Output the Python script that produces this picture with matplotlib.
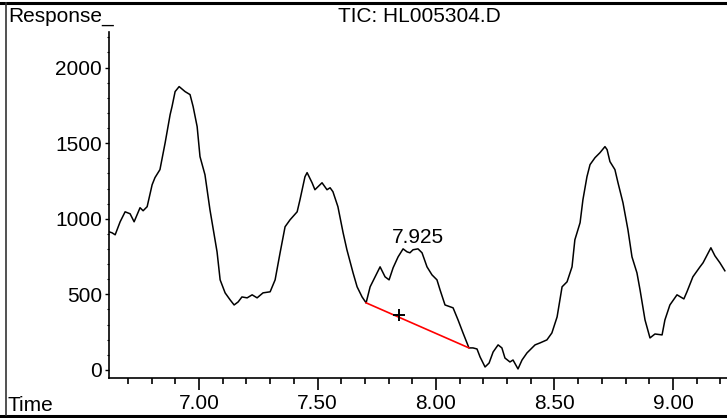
import numpy as np
import matplotlib.pyplot as plt
from matplotlib.lines import Line2D

# Chromatogram trace (retention time, response)
time_min = [
    6.620, 6.633, 6.646, 6.667, 6.688, 6.709, 6.726, 6.751, 6.764, 6.781,
    6.802, 6.814, 6.835, 6.857, 6.878, 6.886, 6.899, 6.916, 6.941, 6.962,
    6.975, 6.992, 7.004, 7.025, 7.046, 7.076, 7.089, 7.110, 7.131, 7.148,
    7.165, 7.181, 7.203, 7.224, 7.245, 7.270, 7.300, 7.321, 7.342, 7.363,
    7.384, 7.414, 7.426, 7.447, 7.456, 7.477, 7.489, 7.519, 7.540, 7.553,
    7.565, 7.586, 7.608, 7.624, 7.650, 7.667, 7.688, 7.705, 7.722, 7.743,
    7.764, 7.785, 7.802, 7.819, 7.840, 7.861, 7.878, 7.890, 7.903, 7.924,
    7.941, 7.962, 7.983, 8.004, 8.017, 8.038, 8.072, 8.093, 8.114, 8.139,
    8.156, 8.173, 8.186, 8.207, 8.224, 8.241, 8.262, 8.278, 8.291, 8.312,
    8.325, 8.346, 8.363, 8.384, 8.418, 8.439, 8.468, 8.489, 8.511, 8.523,
    8.532, 8.553, 8.574, 8.586, 8.608, 8.620, 8.637, 8.650, 8.671, 8.692,
    8.713, 8.722, 8.734, 8.755, 8.768, 8.789, 8.810, 8.827, 8.848, 8.861,
    8.882, 8.903, 8.924, 8.954, 8.966, 8.987, 9.017, 9.046, 9.059, 9.084,
    9.114, 9.127, 9.160, 9.177, 9.198, 9.219,
]
response = [
    914, 907, 894, 980, 1046, 1033, 980, 1073, 1053, 1080,
    1225, 1272, 1325, 1503, 1689, 1742, 1841, 1874, 1841, 1821,
    1742, 1609, 1411, 1291, 1060, 781, 596, 510, 464, 430,
    450, 483, 477, 497, 477, 510, 517, 596, 775, 947,
    993, 1046, 1126, 1278, 1305, 1238, 1192, 1238, 1192, 1205,
    1179, 1080, 907, 795, 642, 550, 483, 444, 550, 616,
    682, 616, 596, 676, 748, 801, 781, 775, 795, 801,
    775, 682, 629, 596, 530, 430, 411, 331, 245, 146,
    146, 139, 86, 20, 46, 119, 166, 146, 79, 53,
    66, 7, 66, 113, 166, 179, 199, 245, 351, 464,
    550, 583, 682, 861, 974, 1126, 1278, 1358, 1404, 1437,
    1477, 1457, 1378, 1325, 1238, 1106, 927, 748, 642, 530,
    331, 212, 238, 232, 331, 430, 497, 470, 517, 616,
    682, 709, 808, 755, 709, 656,
]

# integration baseline of the 7.925 peak
baseline_t = [7.705, 8.139]
baseline_r = [444, 146]
peak_rt = 7.925
peak_label_r = 840
centroid = (7.844, 364)

plt.rcParams["font.family"] = ["Liberation Sans", "DejaVu Sans"]
plt.rcParams["font.size"] = 15

fig = plt.figure(figsize=(7.27, 4.18), dpi=100)
ax = fig.add_axes([109 / 727, 40 / 418, 618 / 727, 346 / 418])

ax.plot(time_min, response, color="black", lw=1.1, solid_joinstyle="round")
ax.plot(baseline_t, baseline_r, color="red", lw=1.2)
ax.plot(*centroid, marker="+", color="black", ms=9, mew=1.4)
ax.text(peak_rt, peak_label_r, f"{peak_rt:.3f}", ha="center", va="baseline")

ax.set_xlim(6.620, 9.228)
ax.set_ylim(-53, 2235)
ax.set_xticks([7.0, 7.5, 8.0, 8.5, 9.0])
ax.set_xticklabels(["7.00", "7.50", "8.00", "8.50", "9.00"])
ax.set_xticks(np.arange(6.7, 9.25, 0.1), minor=True)
ax.set_yticks([0, 500, 1000, 1500, 2000])
ax.set_yticks(np.arange(0, 2201, 100), minor=True)

for side in ["top", "right"]:
    ax.spines[side].set_visible(False)
ax.spines["left"].set_linewidth(1.2)
ax.spines["bottom"].set_linewidth(1.2)
ax.tick_params(axis="x", which="major", direction="out", length=8.5, width=1.2, pad=3)
ax.tick_params(axis="x", which="minor", direction="out", length=4.5, width=1.2)
ax.tick_params(axis="y", which="major", direction="out", length=3, width=1.0, pad=2)
ax.tick_params(axis="y", which="minor", direction="out", length=1.5, width=0.8)

fig.text(8 / 727, 1 - 7 / 418, "Response_", ha="left", va="top")
fig.text(419 / 727, 1 - 7 / 418, "TIC: HL005304.D", ha="center", va="top")
fig.text(8 / 727, 1 - 411 / 418, "Time", ha="left", va="baseline")

# outer frame
fig.add_artist(Line2D([0, 1], [1 - 3 / 418] * 2, color="black", lw=2.2))
fig.add_artist(Line2D([0, 1], [1 - 415.5 / 418] * 2, color="black", lw=2.2))
fig.add_artist(Line2D([6 / 727] * 2, [1 - 415 / 418, 1 - 3 / 418], color="#333333", lw=1.2))

fig.savefig("out.png", dpi=100)
